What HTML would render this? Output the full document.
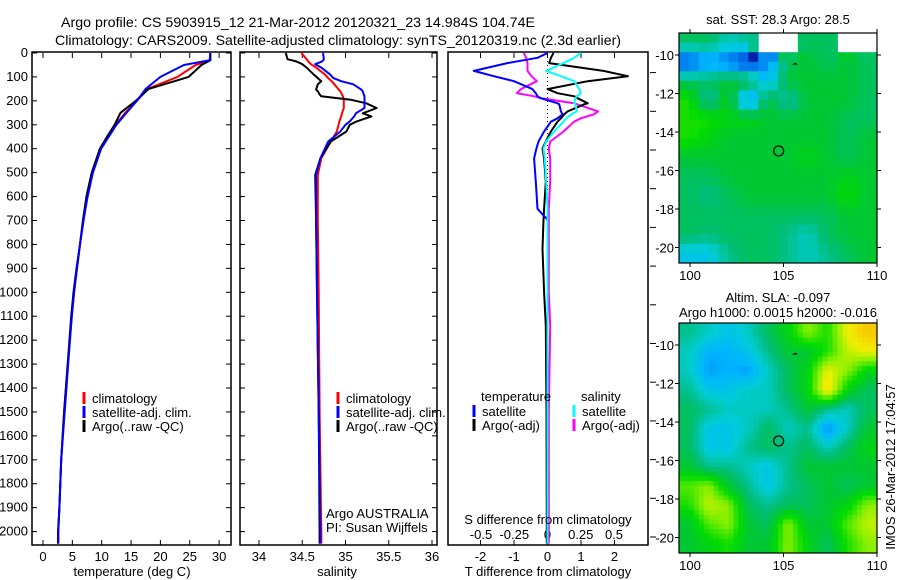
<!DOCTYPE html>
<html><head><meta charset="utf-8"><style>
html,body{margin:0;padding:0;background:#fff;}
svg{display:block;font-family:"Liberation Sans",sans-serif;}
</style></head><body>
<svg id="fig" width="900" height="580" viewBox="0 0 900 580" xmlns="http://www.w3.org/2000/svg">
<text x="61" y="27" font-size="14" textLength="474" lengthAdjust="spacingAndGlyphs">Argo profile: CS 5903915_12 21-Mar-2012 20120321_23 14.984S 104.74E</text>
<text x="55" y="45" font-size="14" textLength="566" lengthAdjust="spacingAndGlyphs">Climatology: CARS2009. Satellite-adjusted climatology: synTS_20120319.nc (2.3d earlier)</text>
<g id="g"></g>
</svg>
<script>
// ---------- data ----------
const tDepth=[0,30,50,100,150,200,250,300,350,400,500,600,700,800,900,1000,1100,1300,1500,1700,1900,2000,2050];
const tClim=[28.5,28.5,26,22.9,17.8,16,14,12.4,11,9.8,8.4,7.5,6.9,6.3,5.8,5.3,4.9,4.2,3.6,3.1,2.8,2.6,2.6];
const tSat=[28.5,28.4,24,20,17.5,16,14.2,12.5,11.2,9.9,8.5,7.6,6.9,6.3,5.8,5.3,4.9,4.3,3.7,3.1,2.8,2.6,2.6];
const tArgo=[28.5,28.5,27,24.8,18,15.8,13.2,12.2,10.9,9.7,8.3,7.4,6.8,6.3,5.7,5.2,4.8,4.2,3.6,3.1,2.8,2.55,2.55];
const sDepth=[0,26,35,47,61,89,105,118,131,152,160,173,181,195,210,230,252,265,286,300,328,370,440,510,700,1000,1500,2000,2050];
const sClim=[34.49,34.55,34.57,34.6,34.66,34.76,34.8,34.84,34.87,34.92,34.94,34.96,34.97,34.98,34.98,34.98,34.96,34.95,34.93,34.92,34.9,34.83,34.72,34.68,34.68,34.69,34.7,34.72,34.72];
const sSat=[34.74,34.75,34.73,34.65,34.72,34.82,34.86,34.95,35.09,35.18,35.2,35.21,35.22,35.22,35.22,35.22,35.12,35.1,35.05,35.0,34.94,34.8,34.71,34.66,34.66,34.67,34.69,34.71,34.71];
const sArgo=[34.31,34.33,34.43,34.5,34.55,34.63,34.68,34.72,34.68,34.66,34.68,34.7,34.72,35.06,35.24,35.36,35.2,35.3,35.13,35.05,35.01,34.83,34.71,34.65,34.66,34.67,34.69,34.7,34.7];
const dDepth=[0,20,42,75,97,118,151,168,181,189,210,214,244,256,273,287,328,370,399,441,538,651,697,819,1000,1139,1500,2000,2050];
const dTSat=[0,-0.3,-1.2,-2.2,-1.6,-1,-0.45,-0.35,-0.3,-0.2,0.3,0.35,0.4,0.45,0.3,0.1,-0.1,-0.27,-0.33,-0.4,-0.35,-0.3,0,0,0,0,0,0,0];
const dTArgo=[0.18,0.1,0.05,1.67,2.4,1.2,0,0.3,0.8,0.9,1.2,1.1,0.6,0.5,0.4,0.3,0.1,-0.05,-0.15,-0.1,-0.05,-0.1,-0.12,-0.15,-0.1,-0.05,-0.03,-0.02,-0.02];
const dSSat=[0.25,0.2,0.12,-0.01,0.1,0.2,0.24,0.25,0.22,0.21,0.2,0.21,0.22,0.18,0.14,0.12,0.05,-0.01,-0.03,-0.02,-0.01,0,0,0,0,0,0,0,0];
const dSArgo=[-0.18,-0.16,-0.15,-0.15,-0.12,-0.08,-0.2,-0.23,-0.1,-0.05,0.2,0.22,0.38,0.35,0.25,0.2,0.12,0.02,0.01,0.02,0.02,0.01,0.01,0.01,0.01,0.02,0.01,0.01,0.01];
const depthTicks=[0,100,200,300,400,500,600,700,800,900,1000,1100,1200,1300,1400,1500,1600,1700,1800,1900,2000];
const tempTicks=[0,5,10,15,20,25,30];
const salTicks=[34,34.5,35,35.5,36];
const dTTicks=[-2,-1,0,1,2];
const dSTicks=[-0.5,-0.25,0,0.25,0.5];
const mapLonTicks=[100,105,110];
const mapLatTicks=[-10,-12,-14,-16,-18,-20];
const sstGrid=[
[0.45,0.45,0.35,0.4,-1,-1,0.45,0.45,-1,-1],
[0.1,0.2,0.15,0.05,0.2,0.45,0.5,0.45,0.5,0.45],
[0.45,0.45,0.5,0.5,0.25,0.5,0.5,0.5,0.5,0.45],
[0.6,0.35,0.55,0.15,0.5,0.35,0.5,0.5,0.5,0.45],
[0.6,0.6,0.55,0.55,0.5,0.5,0.5,0.5,0.45,0.45],
[0.6,0.55,0.5,0.5,0.5,0.5,0.5,0.5,0.45,0.5],
[0.5,0.5,0.5,0.5,0.5,0.5,0.55,0.5,0.45,0.5],
[0.45,0.45,0.5,0.5,0.5,0.5,0.5,0.5,0.55,0.5],
[0.45,0.4,0.45,0.5,0.5,0.5,0.5,0.5,0.58,0.5],
[0.45,0.45,0.45,0.45,0.45,0.45,0.45,0.45,0.5,0.5],
[0.45,0.42,0.45,0.45,0.45,0.4,0.35,0.45,0.5,0.5],
[0.3,0.3,0.4,0.45,0.45,0.4,0.35,0.4,0.45,0.5]];
const slaGrid=[
[0.4,0.35,0.3,0.35,0.45,0.55,0.7,0.6,0.8,0.9],
[0.35,0.25,0.25,0.3,0.4,0.5,0.5,0.6,0.75,0.8],
[0.35,0.22,0.25,0.22,0.35,0.45,0.55,0.8,0.7,0.55],
[0.4,0.3,0.3,0.35,0.35,0.45,0.55,0.85,0.55,0.45],
[0.45,0.4,0.35,0.35,0.35,0.4,0.5,0.4,0.35,0.45],
[0.45,0.3,0.3,0.35,0.45,0.35,0.4,0.2,0.35,0.5],
[0.45,0.3,0.3,0.4,0.45,0.4,0.45,0.35,0.45,0.55],
[0.5,0.4,0.4,0.35,0.3,0.4,0.5,0.5,0.5,0.5],
[0.65,0.7,0.5,0.4,0.3,0.4,0.45,0.5,0.45,0.5],
[0.6,0.75,0.7,0.45,0.4,0.45,0.45,0.5,0.55,0.7],
[0.5,0.65,0.7,0.5,0.45,0.7,0.5,0.5,0.65,0.75],
[0.5,0.55,0.6,0.5,0.5,0.7,0.55,0.45,0.6,0.7]];
const argoLon=104.74, argoLat=-14.984;

// ---------- helpers ----------
const NS="http://www.w3.org/2000/svg";
const G=document.getElementById('g');
function mk(tag,attrs,parent){const e=document.createElementNS(NS,tag);for(const k in attrs)e.setAttribute(k,attrs[k]);(parent||G).appendChild(e);return e;}
function txt(x,y,s,size,anchor,parent){const e=mk('text',{x:x,y:y,'font-size':size||13,'text-anchor':anchor||'start'},parent);e.textContent=s;return e;}
const Y=d=>53+d*0.2393;
const PT=53,PB=545;
function frame(x0,x1,name){const r=mk('rect',{x:x0,y:PT-1,width:x1-x0,height:PB-PT+1,fill:'none',stroke:'#000','stroke-width':1.5});

}
function line(xs,ds,X,color,w,name){const p=xs.map((v,i)=>X(v).toFixed(1)+','+Y(ds[i]).toFixed(1)).join(' ');
const e=mk('polyline',{points:p,fill:'none',stroke:color,'stroke-width':w||2,'stroke-linejoin':'round'});

}
function xticks(vals,X,labelY,fmt,name){vals.forEach(v=>{const x=X(v);mk('line',{x1:x,x2:x,y1:PT,y2:PT+5,stroke:'#000'});mk('line',{x1:x,x2:x,y1:PB,y2:PB-5,stroke:'#000'});
const t=txt(x,labelY,fmt?fmt(v):String(v),13,'middle');

});}
function yticks(x0,x1){depthTicks.forEach(d=>{mk('line',{x1:x0,x2:x0+5,y1:Y(d),y2:Y(d),stroke:'#000'});mk('line',{x1:x1,x2:x1-5,y1:Y(d),y2:Y(d),stroke:'#000'});});}
function legendEntry(x,y,color,label,name){mk('line',{x1:x,x2:x,y1:y-11,y2:y+1,stroke:color,'stroke-width':3});const t=txt(x+8,y,label,13);

}

// ---------- panel 1: temperature ----------
const XT=v=>43+v*5.87;
frame(32,231,'temperature-panel-frame');
depthTicks.forEach(d=>{const t=txt(28,Y(d)+4,String(d),13,'end');

});
yticks(32,231);
xticks(tempTicks,XT,561,null,'temperature-tick-label');
line(tClim,tDepth,XT,'#f00',2,'temperature-climatology-line');
line(tArgo,tDepth,XT,'#000',2,'temperature-argo-line');
line(tSat,tDepth,XT,'#00f',2,'temperature-satellite-line');
let t1=txt(132,576,'temperature (deg C)',13,'middle');
legendEntry(84,403,'#f00','climatology','legend-climatology');
legendEntry(84,417,'#00f','satellite-adj. clim.','legend-satellite');
legendEntry(84,431,'#000','Argo(..raw -QC)','legend-argo');

// ---------- panel 2: salinity ----------
const XS=v=>259+(v-34)*86.5;
frame(240,437,'salinity-panel-frame');
yticks(240,437);
xticks(salTicks,XS,561,null,'salinity-tick-label');
line(sClim,sDepth,XS,'#f00',2,'salinity-climatology-line');
line(sArgo,sDepth,XS,'#000',2,'salinity-argo-line');
line(sSat,sDepth,XS,'#00f',2,'salinity-satellite-line');
let t2=txt(337,576,'salinity',13,'middle');
legendEntry(338,403,'#f00','climatology','legend-climatology-2');
legendEntry(338,417,'#00f','satellite-adj. clim.','legend-satellite-2');
legendEntry(338,431,'#000','Argo(..raw -QC)','legend-argo-2');
let t3=txt(326,518,'Argo AUSTRALIA',13);
let t4=txt(326,532,'PI: Susan Wijffels',13);

// ---------- panel 3: differences ----------
const XD=v=>547.5+v*33.5;
const XDS=v=>547.5+v*133;
frame(448,648,'difference-panel-frame');
dTTicks.forEach(v=>{const x=XD(v);mk('line',{x1:x,x2:x,y1:PB,y2:PB-5,stroke:'#000'});mk('line',{x1:x,x2:x,y1:PT,y2:PT+5,stroke:'#000'});
const t=txt(x,561,String(v),13,'middle');});
dSTicks.forEach(v=>{const x=XDS(v);
const t=txt(x,539,String(v),13,'middle');});
for(let k=0;k<13;k++){const y=537-k*38.7;mk('line',{x1:650,x2:656,y1:y,y2:y,stroke:'#000'});}
mk('line',{x1:XD(0),x2:XD(0),y1:PT,y2:PB,stroke:'#000','stroke-dasharray':'1,3'});
line(dSArgo,dDepth,XDS,'#f0f',2,'salinity-diff-argo-line');
line(dTArgo,dDepth,XD,'#000',2,'temperature-diff-argo-line');
line(dTSat,dDepth,XD,'#00f',2,'temperature-diff-satellite-line');
line(dSSat,dDepth,XDS,'#0ff',2,'salinity-diff-satellite-line');
let t5=txt(548,524,'S difference from climatology',13,'middle');
let t6=txt(548,576,'T difference from climatology',13,'middle');
let t7=txt(481,401,'temperature',13);
let t8=txt(581,401,'salinity',13);
legendEntry(474,416,'#00f','satellite','legend-t-satellite');
legendEntry(474,430,'#000','Argo(-adj)','legend-t-argo');
legendEntry(574,416,'#0ff','satellite','legend-s-satellite');
legendEntry(574,430,'#f0f','Argo(-adj)','legend-s-argo');

// ---------- maps ----------
const stops=[[0,[0,0,140]],[0.15,[0,100,230]],[0.25,[0,180,255]],[0.33,[0,205,215]],[0.42,[0,190,120]],[0.5,[0,200,50]],[0.58,[0,220,0]],[0.7,[140,240,0]],[0.8,[240,240,0]],[1,[255,160,0]]];
function cmap(v){for(let i=1;i<stops.length;i++){if(v<=stops[i][0]){const a=stops[i-1],b=stops[i];const f=(v-a[0])/(b[0]-a[0]);return 'rgb('+a[1].map((c,j)=>Math.round(c+(b[1][j]-c)*f)).join(',')+')';}}return 'rgb(255,160,0)';}
function sample(grid,fr,fc){
  const nr=grid.length,nc=grid[0].length;
  const r=Math.min(Math.max(fr-0.5,0),nr-1),c=Math.min(Math.max(fc-0.5,0),nc-1);
  const r0=Math.floor(r),c0=Math.floor(c),r1=Math.min(r0+1,nr-1),c1=Math.min(c0+1,nc-1);
  const a=grid[r0][c0],b=grid[r0][c1],cc=grid[r1][c0],d=grid[r1][c1];
  const near=grid[Math.min(Math.floor(fr),nr-1)][Math.min(Math.floor(fc),nc-1)];
  if(near<0)return -1;
  if(a<0||b<0||cc<0||d<0)return near;
  const u=r-r0,v=c-c0;
  return a*(1-u)*(1-v)+b*(1-u)*v+cc*u*(1-v)+d*u*v;
}
function drawMap(top,grid,name,sub){
  const L=679,R=877,B=top+230;
  const MX=lon=>690+(lon-100)*18.7;
  const lat0=top+22, MY=lat=>lat0+(-10-lat)*19.25;
  const nr=grid.length, nc=grid[0].length;
  const NR=nr*sub, NC=nc*sub;
  const cw=(R-L)/NC, ch=(B-top)/NR;
  const g=mk('g',{});
  
  
  for(let r=0;r<NR;r++)for(let c=0;c<NC;c++){
    const v=sample(grid,(r+0.5)/sub,(c+0.5)/sub); if(v<0)continue;
    mk('rect',{x:(L+c*cw).toFixed(1),y:(top+r*ch).toFixed(1),width:(cw+0.5).toFixed(1),height:(ch+0.5).toFixed(1),fill:cmap(v)},g);
  }
  const fr=mk('rect',{x:L,y:top,width:R-L,height:B-top,fill:'none',stroke:'#000','stroke-width':1.2});
  
  
  mapLonTicks.forEach(lon=>{const x=MX(lon);mk('line',{x1:x,x2:x,y1:top,y2:top-4,stroke:'#000'});mk('line',{x1:x,x2:x,y1:B,y2:B+4,stroke:'#000'});
    const t=txt(x,B+17,String(lon),13,'middle');});
  mapLatTicks.forEach(lat=>{const y=MY(lat);mk('line',{x1:L,x2:L-4,y1:y,y2:y,stroke:'#000'});mk('line',{x1:R,x2:R+4,y1:y,y2:y,stroke:'#000'});
    const t=txt(674,y+5,String(lat),13,'end');});
  const c=mk('circle',{cx:MX(argoLon),cy:MY(argoLat),r:5,fill:'none',stroke:'#000','stroke-width':1.2});
  
  
  mk('path',{d:`M${MX(105.6)-3},${MY(-10.5)} l4,-2 l2,2 z`,fill:'#000'});
}
drawMap(33,sstGrid,'sst-map',2);
drawMap(323,slaGrid,'sla-map',4);
let m1=txt(778,24,'sat. SST: 28.3 Argo: 28.5',13,'middle');
let m2=txt(778,302,'Altim. SLA: -0.097',13,'middle');
let m3=txt(778,317,'Argo h1000: 0.0015 h2000: -0.016',13,'middle');
let m4=txt(0,0,'IMOS 26-Mar-2012 17:04:57',13,'middle');m4.setAttribute('transform','translate(895,467) rotate(-90)');


</script>
</body></html>
